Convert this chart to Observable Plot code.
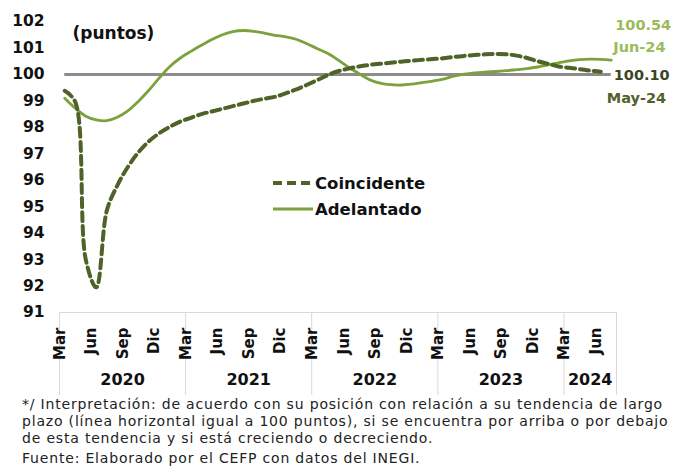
<!DOCTYPE html>
<html>
<head>
<meta charset="utf-8">
<script src="https://cdn.jsdelivr.net/npm/d3@7"></script>
<script src="https://cdn.jsdelivr.net/npm/@observablehq/plot@0.6"></script>
<style>
  body { margin: 0; background: #fff; }
  #wrap { position: relative; width: 675px; height: 466px; overflow: hidden; font-family: "DejaVu Sans", sans-serif; }
  #note { position: absolute; left: 22px; top: 396px; font-size: 14px; line-height: 17px; color: #222; white-space: nowrap; }
  #note div:last-child { margin-top: 3px; }
  #legend { position: absolute; left: 273px; top: 170px; font-weight: bold; font-size: 16.5px; color: #111; }
  #legend .row { display: flex; align-items: center; height: 26px; }
  #legend svg { margin-right: 2px; }
</style>
</head>
<body>
<div id="wrap">
  <div id="chart"></div>
  <div id="legend"></div>
  <div id="note"></div>
</div>
<script>
// ---- data (index 0 = first month on the chart) ----
const coincidente = [
  99.38, 98.96, 93.0, 91.95, 94.85, 95.8, 96.5, 97.05, 97.47, 97.78,
  98.02, 98.22, 98.36, 98.5, 98.6, 98.7, 98.8, 98.9, 99.0, 99.08,
  99.15, 99.28, 99.43, 99.6, 99.78, 99.97, 100.12, 100.22, 100.3, 100.36,
  100.4, 100.44, 100.48, 100.52, 100.55, 100.58, 100.61, 100.66, 100.7, 100.73,
  100.76, 100.77, 100.76, 100.71, 100.62, 100.5, 100.4, 100.3, 100.25, 100.2,
  100.14, 100.10
];
const adelantado = [
  99.1, 98.72, 98.42, 98.28, 98.25, 98.38, 98.62, 98.98, 99.4, 99.87,
  100.3, 100.62, 100.87, 101.1, 101.32, 101.5, 101.62, 101.66, 101.63, 101.56,
  101.48, 101.42, 101.33, 101.17, 100.98, 100.8, 100.55, 100.27, 100.03, 99.8,
  99.67, 99.61, 99.6, 99.63, 99.69, 99.75, 99.82, 99.93, 100.01, 100.06,
  100.09, 100.11, 100.14, 100.18, 100.22, 100.28, 100.36, 100.44, 100.51, 100.56,
  100.58, 100.57, 100.54
];
const monthLabels = ["Mar","Jun","Sep","Dic","Mar","Jun","Sep","Dic","Mar","Jun","Sep","Dic","Mar","Jun","Sep","Dic","Mar","Jun"];
const years = ["2020","2021","2022","2023","2024"];
const yearCounts = [12, 12, 12, 12, 5];
const yTicks = [91, 92, 93, 94, 95, 96, 97, 98, 99, 100, 101, 102];
const seriesNames = ["Coincidente", "Adelantado"];
const endLabels = {Coincidente: ["100.10", "May-24"], Adelantado: ["100.54", "Jun-24"]};
const referenceLevel = 100;
const noteLines = [
  "*/ Interpretación: de acuerdo con su posición con relación a su tendencia de largo",
  "plazo (línea horizontal igual a 100 puntos), si se encuentra por arriba o por debajo",
  "de esta tendencia y si está creciendo o decreciendo.",
  "Fuente: Elaborado por el CEFP con datos del INEGI."
];

// ---- derived tables ----
const nCat = adelantado.length;
const coinData = coincidente.map((v, i) => ({i, v}));
const adelData = adelantado.map((v, i) => ({i, v}));
const monthTicks = monthLabels.map((m, j) => ({i: j * 3, label: m}));
let acc = 0;
const bounds = [-0.5];
const yearData = years.map((y, j) => {
  const start = acc; acc += yearCounts[j];
  bounds.push(acc - 0.5);
  return {label: y, c: (start + acc - 1) / 2};
});
const lastC = coinData[coinData.length - 1];
const lastA = adelData[adelData.length - 1];

const DARK = "#4f6228";
const LIGHT = "#7ba23d";

const chart = Plot.plot({
  width: 675,
  height: 396,
  marginLeft: 59,
  marginRight: 59,
  marginTop: 21,
  marginBottom: 84,
  style: {fontFamily: "DejaVu Sans, sans-serif", fontWeight: "bold", fontSize: "15px", color: "#111", background: "#fff", overflow: "visible"},
  x: {domain: [-0.5, nCat - 0.5], axis: null},
  y: {domain: [91, 102], axis: null},
  marks: [
    // category table lines
    Plot.ruleY([91], {stroke: "#d9d9d9", strokeWidth: 1}),
    Plot.axisX({ticks: bounds, tickSize: 83, tickFormat: () => "", label: null, stroke: "#d9d9d9", strokeWidth: 1}),
    Plot.axisY({ticks: yTicks, tickSize: 0, tickPadding: 15, label: null, fontSize: 15.5, fill: "#111", tickFormat: d => String(d)}),
    Plot.text(monthTicks, {x: "i", text: "label", frameAnchor: "bottom", dy: 15, rotate: -90, textAnchor: "end", fontSize: 15, fill: "#111"}),
    Plot.text(yearData, {x: "c", text: "label", frameAnchor: "bottom", dy: 72, fontSize: 16, fill: "#111"}),
    // reference line at 100
    Plot.ruleY([referenceLevel], {x1: 0, x2: nCat - 1, stroke: "#8c8c8c", strokeWidth: 3}),
    // series
    Plot.line(adelData, {x: "i", y: "v", stroke: LIGHT, strokeWidth: 2.8, curve: "catmull-rom"}),
    Plot.line(coinData, {x: "i", y: "v", stroke: DARK, strokeWidth: 4, strokeDasharray: "9,5", curve: "catmull-rom"}),
    // unit label
    Plot.text(["(puntos)"], {frameAnchor: "top-left", dx: 13, dy: 5, textAnchor: "start", fontSize: 17, fill: "#111"}),
    // end labels
    Plot.text([lastA], {x: "i", y: "v", text: () => endLabels.Adelantado[0], dx: 4, dy: -35, textAnchor: "start", fill: "#9bbb59", fontSize: 14.5}),
    Plot.text([lastA], {x: "i", y: "v", text: () => endLabels.Adelantado[1], dx: 2, dy: -13, textAnchor: "start", fill: "#9bbb59", fontSize: 14.5}),
    Plot.text([lastC], {x: "i", y: "v", text: () => endLabels.Coincidente[0], dx: 13, dy: 4, textAnchor: "start", fill: "#3b4424", fontSize: 14.5}),
    Plot.text([lastC], {x: "i", y: "v", text: () => endLabels.Coincidente[1], dx: 6, dy: 27, textAnchor: "start", fill: DARK, fontSize: 14.5})
  ]
});
document.getElementById("chart").appendChild(chart);

// legend
const legend = document.getElementById("legend");
const styles = {Coincidente: {stroke: DARK, w: 4, dash: "9,5"}, Adelantado: {stroke: LIGHT, w: 2.8, dash: null}};
seriesNames.forEach(name => {
  const s = styles[name];
  const row = document.createElement("div");
  row.className = "row";
  row.innerHTML = `<svg width="40" height="10"><line x1="0" y1="5" x2="40" y2="5" stroke="${s.stroke}" stroke-width="${s.w}" ${s.dash ? `stroke-dasharray="${s.dash}"` : ""}/></svg><span>${name}</span>`;
  legend.appendChild(row);
});

// footnote, letter-spaced so that the first line spans the reference width
const note = document.getElementById("note");
note.innerHTML = noteLines.map(l => `<div><span>${l}</span></div>`).join("");
const firstSpan = note.querySelector("span");
const w0 = firstSpan.getBoundingClientRect().width;
const ls = (641 - w0) / noteLines[0].length;
note.style.letterSpacing = ls + "px";
</script>
</body>
</html>
